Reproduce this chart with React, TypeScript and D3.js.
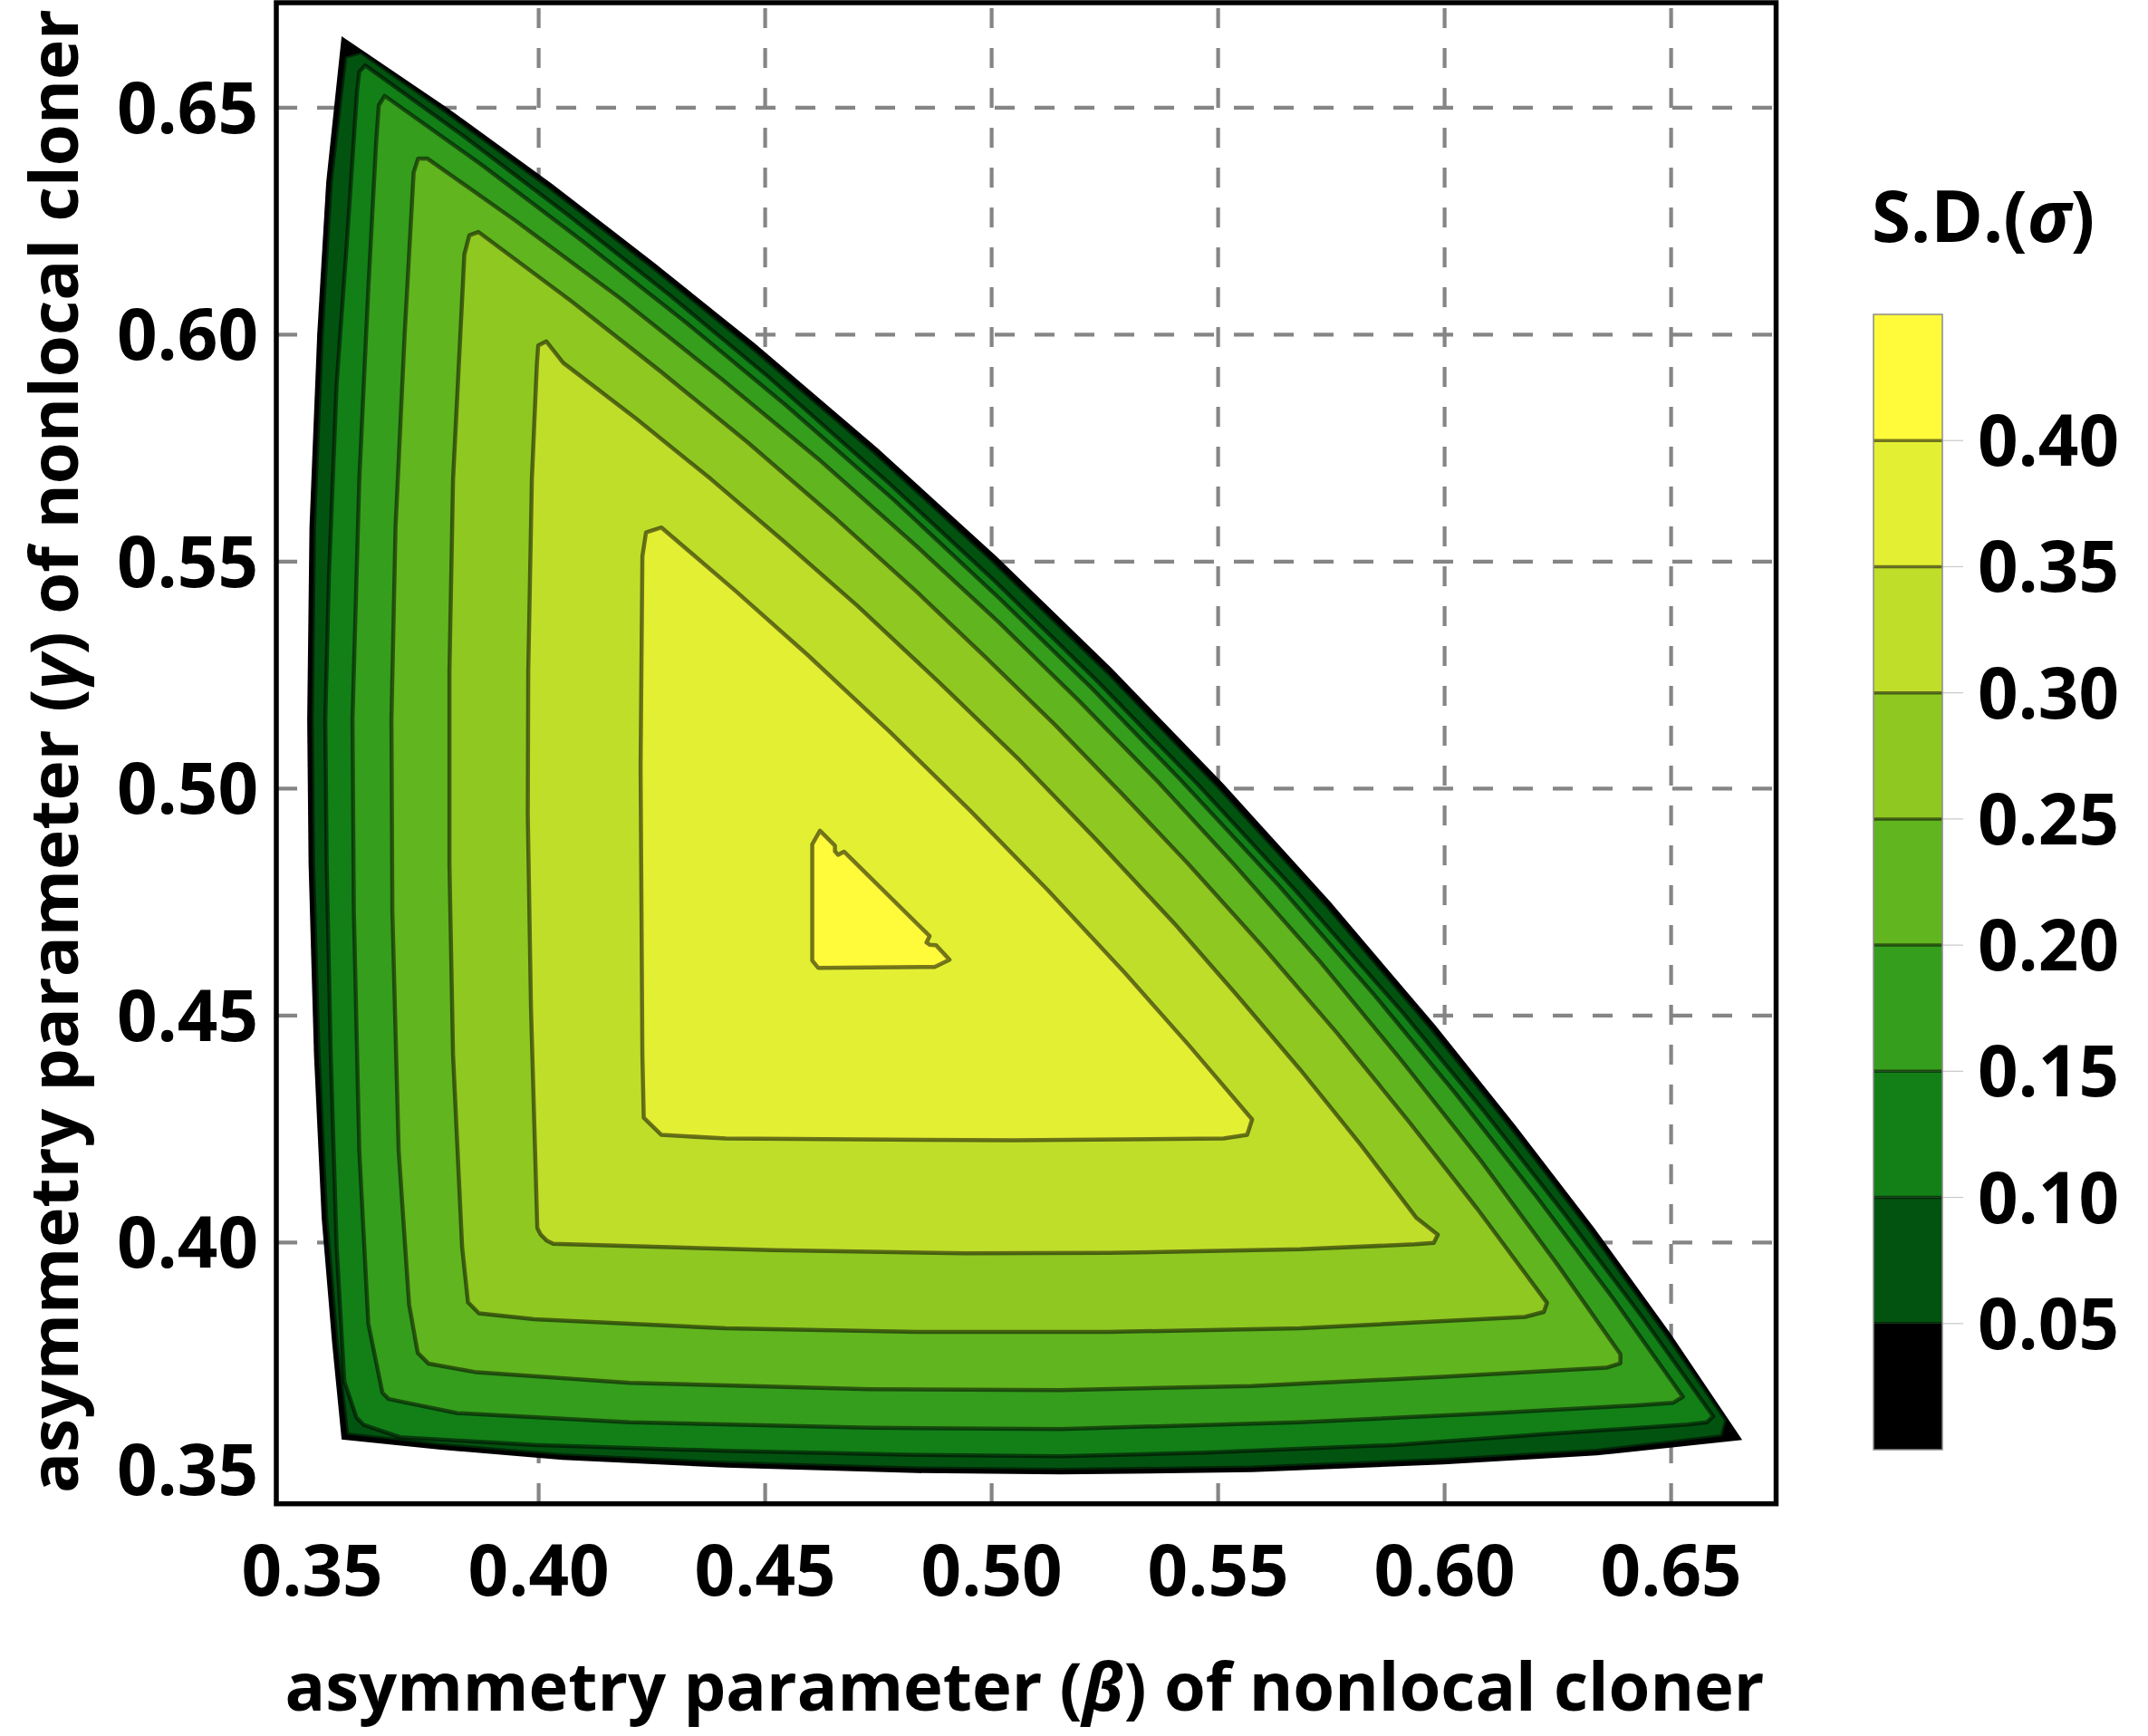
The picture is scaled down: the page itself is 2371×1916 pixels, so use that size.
import React from "react";
import * as d3 from "d3";

type P = [number, number];

// contour levels (S.D. sigma) and the band colours above each level
const levels: number[] = [0, 0.05, 0.1, 0.15, 0.2, 0.25, 0.3, 0.35, 0.4];
const bandColors: string[] = [
  "#000000", "#02530F", "#128017", "#359E1C", "#61B51E",
  "#8FC821", "#BFDE2A", "#E3EF33", "#FFFB3A",
];

// region where sigma >= level, as (beta, gamma) vertices
const contour000: P[] = [
  [0.3565, 0.6657], [0.3799, 0.6499], [0.4031, 0.6331], [0.4257, 0.6157], [0.4479, 0.5979],
  [0.4749, 0.5749], [0.5011, 0.5511], [0.5265, 0.5265], [0.5511, 0.5011], [0.5749, 0.4749],
  [0.5979, 0.4479], [0.6157, 0.4257], [0.6331, 0.4031], [0.6499, 0.3799], [0.6657, 0.3565],
  [0.6336, 0.3531], [0.5998, 0.3511], [0.5575, 0.3494], [0.5152, 0.3489], [0.4835, 0.3492],
  [0.4413, 0.3504], [0.4053, 0.3521], [0.3779, 0.3544], [0.3565, 0.3566],
  [0.3544, 0.3779], [0.3521, 0.4053], [0.3504, 0.4413], [0.3492, 0.4835], [0.3489, 0.5152],
  [0.3494, 0.5575], [0.3511, 0.5998], [0.3531, 0.6336],
];
const contour005: P[] = [
  [0.3573, 0.6612], [0.3608, 0.6622], [0.3793, 0.6493], [0.4024, 0.6324], [0.425, 0.615],
  [0.4471, 0.5971], [0.4741, 0.5741], [0.5002, 0.5502], [0.5256, 0.5256], [0.5502, 0.5002],
  [0.5741, 0.4741], [0.5971, 0.4471], [0.615, 0.425], [0.6324, 0.4024], [0.6493, 0.3793],
  [0.6622, 0.3608], [0.6612, 0.3573],
  [0.6336, 0.3541], [0.5998, 0.3521], [0.5575, 0.3504], [0.5152, 0.3499], [0.4835, 0.3502],
  [0.4413, 0.3514], [0.4053, 0.3531], [0.3779, 0.3554], [0.3577, 0.3577],
  [0.3554, 0.3779], [0.3531, 0.4053], [0.3514, 0.4413], [0.3502, 0.4835], [0.3499, 0.5152],
  [0.3504, 0.5575], [0.3521, 0.5998], [0.3541, 0.6336],
];
const contour010: P[] = [
  [0.3604, 0.6579], [0.3617, 0.6593], [0.3836, 0.6436], [0.4064, 0.6264], [0.4288, 0.6088],
  [0.4507, 0.5907], [0.4773, 0.5673], [0.5007, 0.5457], [0.5235, 0.5235], [0.5457, 0.5007],
  [0.5673, 0.4773], [0.5907, 0.4507], [0.6088, 0.4288], [0.6264, 0.4064], [0.6436, 0.3836],
  [0.6593, 0.3617], [0.6579, 0.3604],
  [0.6536, 0.3599], [0.6209, 0.3577], [0.5892, 0.3554], [0.5469, 0.3537], [0.5152, 0.3529],
  [0.4835, 0.3532], [0.4413, 0.3541], [0.399, 0.3554], [0.3694, 0.3571], [0.3614, 0.3598],
  [0.3598, 0.3614], [0.3571, 0.3694], [0.3554, 0.399], [0.3541, 0.4413], [0.3532, 0.4835],
  [0.3529, 0.5152], [0.3537, 0.5469], [0.3554, 0.5892], [0.3577, 0.6209], [0.3599, 0.6536],
];
const contour015: P[] = [
  [0.3647, 0.6505], [0.366, 0.6526], [0.3874, 0.6374], [0.4102, 0.6202], [0.4326, 0.6026],
  [0.4545, 0.5845], [0.4785, 0.5635], [0.5018, 0.5418], [0.5221, 0.5221], [0.5418, 0.5018],
  [0.5635, 0.4785], [0.5845, 0.4545], [0.6026, 0.4326], [0.6202, 0.4102], [0.6374, 0.3874],
  [0.6526, 0.366], [0.6505, 0.3647],
  [0.642, 0.3641], [0.6103, 0.3624], [0.5681, 0.3604], [0.5152, 0.3589], [0.473, 0.3592],
  [0.4201, 0.3604], [0.3821, 0.3624], [0.3669, 0.3655], [0.3655, 0.3669],
  [0.3624, 0.3821], [0.3604, 0.4201], [0.3592, 0.473], [0.3589, 0.5152], [0.3604, 0.5681],
  [0.3624, 0.6103], [0.3641, 0.642],
];
const contour020: P[] = [
  [0.3734, 0.6388], [0.3754, 0.6388], [0.395, 0.625], [0.418, 0.608], [0.4403, 0.5903],
  [0.4622, 0.5722], [0.4834, 0.5534], [0.5016, 0.5366], [0.5193, 0.5193], [0.5366, 0.5016],
  [0.5534, 0.4834], [0.5722, 0.4622], [0.5903, 0.4403], [0.608, 0.418], [0.625, 0.395],
  [0.6388, 0.3754], [0.6388, 0.3734],
  [0.6357, 0.3724], [0.5998, 0.3704], [0.5575, 0.3684], [0.5152, 0.3675], [0.473, 0.3677],
  [0.4201, 0.3691], [0.3863, 0.3714], [0.3757, 0.3733], [0.3733, 0.3757],
  [0.3714, 0.3863], [0.3691, 0.4201], [0.3677, 0.473], [0.3675, 0.5152], [0.3684, 0.5575],
  [0.3704, 0.5998], [0.3724, 0.6357],
];
const contour025: P[] = [
  [0.3847, 0.6219], [0.3867, 0.6226], [0.4073, 0.6073], [0.4269, 0.5919], [0.4462, 0.5762],
  [0.465, 0.56], [0.4834, 0.5434], [0.4988, 0.5288], [0.514, 0.514], [0.5288, 0.4988],
  [0.5434, 0.4834], [0.56, 0.465], [0.5762, 0.4462], [0.5919, 0.4269], [0.6073, 0.4073],
  [0.6226, 0.3867], [0.6219, 0.3847],
  [0.6177, 0.3836], [0.5681, 0.3811], [0.5258, 0.3803], [0.4835, 0.3803], [0.4413, 0.3811],
  [0.399, 0.3831], [0.3868, 0.3844], [0.3844, 0.3868],
  [0.3831, 0.399], [0.3811, 0.4413], [0.3803, 0.4835], [0.3803, 0.5258], [0.3811, 0.5681],
  [0.3836, 0.6177],
];
const contour030: P[] = [
  [0.3999, 0.5976], [0.4017, 0.5985], [0.4054, 0.5938], [0.4215, 0.5815], [0.4381, 0.5681],
  [0.4543, 0.5543], [0.4703, 0.5403], [0.4884, 0.5234], [0.5062, 0.5062], [0.5234, 0.4884],
  [0.5403, 0.4703], [0.5543, 0.4543], [0.5681, 0.4381], [0.5815, 0.4215], [0.5938, 0.4054],
  [0.5985, 0.4017], [0.5976, 0.3999],
  [0.5934, 0.3996], [0.5681, 0.3985], [0.5258, 0.3977], [0.4941, 0.3976], [0.4518, 0.3983],
  [0.4032, 0.3997], [0.4018, 0.4004], [0.4004, 0.4018],
  [0.3997, 0.4032], [0.3983, 0.4518], [0.3976, 0.4941], [0.3977, 0.5258], [0.3985, 0.5681],
  [0.3996, 0.5934],
];
const contour035: P[] = [
  [0.4237, 0.5564], [0.4271, 0.5575], [0.4435, 0.5435], [0.4594, 0.5294], [0.4775, 0.5125],
  [0.4952, 0.4952], [0.5125, 0.4775], [0.5294, 0.4594], [0.5435, 0.4435], [0.5575, 0.4271],
  [0.5564, 0.4237], [0.5512, 0.4229], [0.5047, 0.4225], [0.4413, 0.4229], [0.4271, 0.4237],
  [0.4232, 0.4275], [0.4229, 0.4413], [0.4225, 0.5047], [0.4229, 0.5512],
];
const contour040: P[] = [
  [0.4621, 0.4907], [0.4654, 0.4874], [0.4654, 0.4862], [0.4661, 0.4854], [0.4674, 0.4861],
  [0.4863, 0.4675], [0.4856, 0.4661], [0.4863, 0.4656], [0.4877, 0.4655], [0.4907, 0.4623],
  [0.4874, 0.4607], [0.4617, 0.4605], [0.4604, 0.4621], [0.4604, 0.4877],
];

const contours: P[][] = [
  contour000, contour005, contour010, contour015, contour020,
  contour025, contour030, contour035, contour040,
];

const xTicks: number[] = [0.35, 0.4, 0.45, 0.5, 0.55, 0.6, 0.65];
const yTicks: number[] = [0.35, 0.4, 0.45, 0.5, 0.55, 0.6, 0.65];
const gridValues: number[] = [0.4, 0.45, 0.5, 0.55, 0.6, 0.65];
const barTicks: number[] = [0.05, 0.1, 0.15, 0.2, 0.25, 0.3, 0.35, 0.4];
const barDomain: number[] = [0, 0.45];

const FONT = "'Open Sans', 'DejaVu Sans', sans-serif";

export default function App() {
  const W = 2371;
  const H = 1916;
  const x = d3.scaleLinear().domain([0.34188, 0.67308]).range([304, 1960]);
  const y = d3.scaleLinear().domain([0.34258, 0.67281]).range([1659, 4.5]);
  const c = d3.scaleLinear().domain(barDomain).range([1600, 347]);
  const path = d3
    .line<P>()
    .x((d) => x(d[0]))
    .y((d) => y(d[1]))
    .curve(d3.curveLinearClosed);

  const bandEdges = [...levels, barDomain[1]];

  return (
    <svg
      width={W}
      height={H}
      viewBox={`0 0 ${W} ${H}`}
      style={{ position: "absolute", left: 0, top: 0, display: "block", background: "#fff" }}
    >
      <rect x={0} y={0} width={W} height={H} fill="#fff" />

      {/* grid */}
      <g stroke="#858585" strokeWidth={4.2} strokeDasharray="22 22" fill="none">
        {gridValues.map((v) => (
          <line key={"gx" + v} x1={x(v)} x2={x(v)} y1={1659} y2={4.5} />
        ))}
        {gridValues.map((v) => (
          <line key={"gy" + v} x1={306} x2={1960} y1={y(v)} y2={y(v)} />
        ))}
      </g>

      {/* filled contours */}
      <g>
        {contours.map((poly, i) => (
          <path key={"f" + i} d={path(poly) || ""} fill={bandColors[i]} stroke="none" />
        ))}
      </g>
      {/* contour lines */}
      <g fill="none" stroke="rgba(0,0,0,0.52)" strokeWidth={4.5} strokeLinejoin="round">
        {contours.slice(1).map((poly, i) => (
          <path key={"l" + i} d={path(poly) || ""} />
        ))}
      </g>

      {/* frame */}
      <rect x={305} y={3} width={1655.5} height={1656.7} fill="none" stroke="#000" strokeWidth={5.5} />

      {/* tick labels */}
      <g fontFamily={FONT} fontWeight={700} fontSize={78} fill="#000">
        {xTicks.map((v) => (
          <text key={"xt" + v} x={x(v)} y={1761} textAnchor="middle">
            {v.toFixed(2)}
          </text>
        ))}
        {yTicks.map((v) => (
          <text key={"yt" + v} x={285} y={y(v) + 28} textAnchor="end">
            {v.toFixed(2)}
          </text>
        ))}
      </g>

      {/* axis titles */}
      <text
        x={1131}
        y={1888}
        textAnchor="middle"
        fontFamily={FONT}
        fontWeight={700}
        fontSize={74}
        textLength={1633}
        lengthAdjust="spacingAndGlyphs"
      >
        asymmetry parameter (<tspan fontStyle="italic">β</tspan>) of nonlocal cloner
      </text>
      <text
        transform="translate(86,829) rotate(-90)"
        textAnchor="middle"
        fontFamily={FONT}
        fontWeight={700}
        fontSize={74}
        textLength={1638}
        lengthAdjust="spacingAndGlyphs"
      >
        asymmetry parameter (<tspan fontStyle="italic">γ</tspan>) of nonlocal cloner
      </text>

      {/* colour bar */}
      <g>
        {levels.map((lv, i) => (
          <rect
            key={"cb" + i}
            x={2068}
            width={76}
            y={c(bandEdges[i + 1])}
            height={c(lv) - c(bandEdges[i + 1])}
            fill={bandColors[i]}
          />
        ))}
        {barTicks.map((v) => (
          <line key={"cs" + v} x1={2068} x2={2144} y1={c(v)} y2={c(v)} stroke="rgba(0,0,0,0.52)" strokeWidth={3.5} />
        ))}
        {barTicks.map((v) => (
          <line key={"ct" + v} x1={2144} x2={2167} y1={c(v)} y2={c(v)} stroke="#c8c8c8" strokeWidth={1.2} />
        ))}
        <rect x={2068} y={c(barDomain[1])} width={76} height={c(barDomain[0]) - c(barDomain[1])} fill="none" stroke="#8a8a8a" strokeWidth={1.5} />
      </g>
      <g fontFamily={FONT} fontWeight={700} fontSize={78} fill="#000">
        {barTicks.map((v) => (
          <text key={"cl" + v} x={2183} y={c(v) + 28} textAnchor="start">
            {v.toFixed(2)}
          </text>
        ))}
        <text x={2066} y={267} textAnchor="start">
          S.D.(<tspan fontStyle="italic">σ</tspan>)
        </text>
      </g>
    </svg>
  );
}
